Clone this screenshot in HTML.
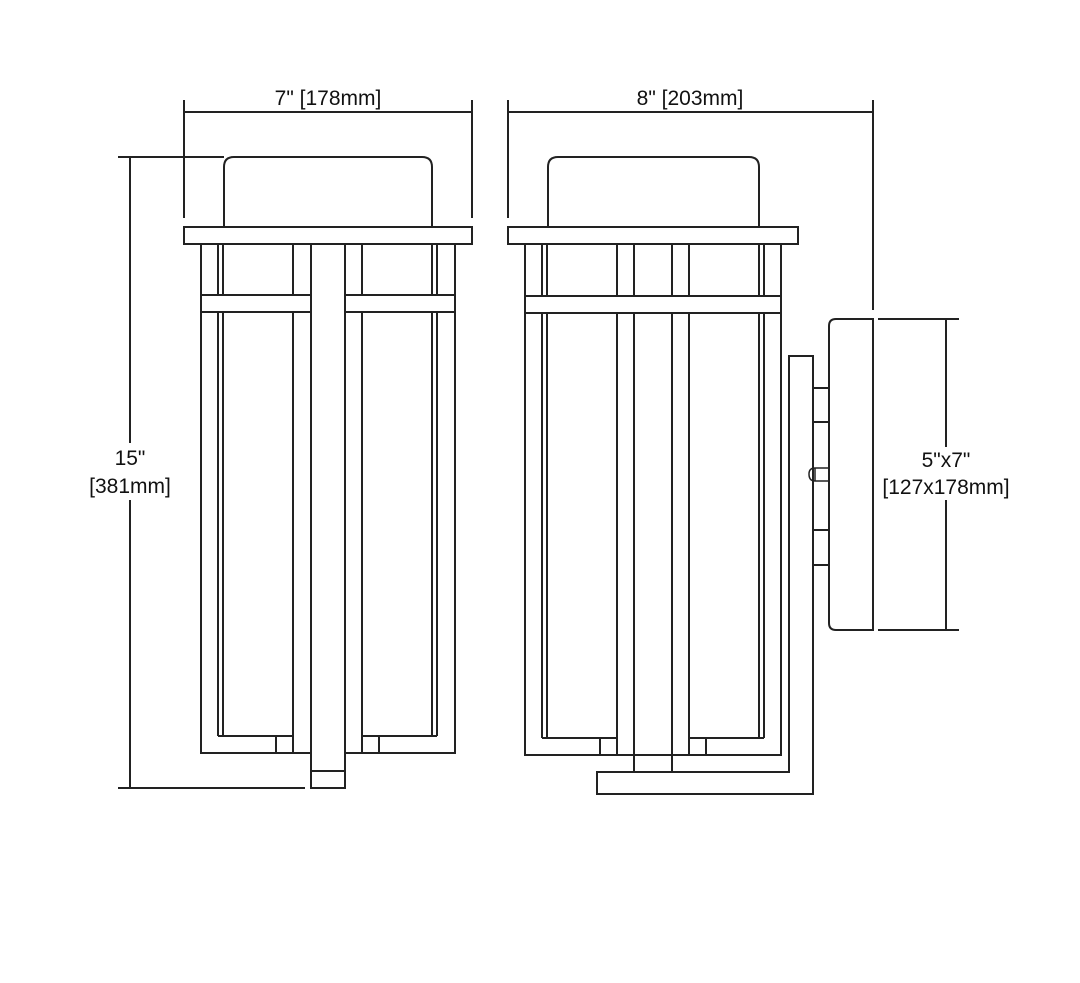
<!DOCTYPE html>
<html><head><meta charset="utf-8"><style>
html,body{margin:0;padding:0;background:#fff;}
svg{display:block;}
text{font-family:"Liberation Sans",sans-serif;font-size:21px;fill:#111;}
</style></head><body>
<svg width="1080" height="983" viewBox="0 0 1080 983" xmlns="http://www.w3.org/2000/svg">
<g fill="none" stroke="#222" stroke-width="2">
<line x1="184" y1="100" x2="184" y2="218"/>
<line x1="472" y1="100" x2="472" y2="218"/>
<line x1="184" y1="112" x2="472" y2="112"/>
<line x1="508" y1="100" x2="508" y2="218"/>
<line x1="873" y1="100" x2="873" y2="310"/>
<line x1="508" y1="112" x2="873" y2="112"/>
<line x1="118" y1="157" x2="224" y2="157"/>
<line x1="118" y1="788" x2="305" y2="788"/>
<line x1="130" y1="157" x2="130" y2="443"/>
<line x1="130" y1="500" x2="130" y2="788"/>
<line x1="878" y1="319" x2="959" y2="319"/>
<line x1="878" y1="630" x2="959" y2="630"/>
<line x1="946" y1="319" x2="946" y2="447"/>
<line x1="946" y1="500" x2="946" y2="630"/>

<path d="M224 227 V167 Q224 157 234 157 H422 Q432 157 432 167 V227"/>
<rect x="184" y="227" width="288" height="17"/>
<rect x="201" y="244" width="254" height="509"/>
<line x1="218" y1="244" x2="218" y2="736"/>
<line x1="223" y1="244" x2="223" y2="736"/>
<line x1="218" y1="736" x2="293" y2="736"/>
<line x1="276" y1="736" x2="276" y2="753"/>
<line x1="293" y1="244" x2="293" y2="753"/>
<line x1="432" y1="244" x2="432" y2="736"/>
<line x1="437" y1="244" x2="437" y2="736"/>
<line x1="362" y1="736" x2="437" y2="736"/>
<line x1="379" y1="736" x2="379" y2="753"/>
<line x1="362" y1="244" x2="362" y2="753"/>
<rect x="311" y="244" width="34" height="544" fill="#fff"/>
<line x1="311" y1="771" x2="345" y2="771"/>
<rect x="201" y="295" width="110" height="17" fill="#fff"/>
<rect x="345" y="295" width="110" height="17" fill="#fff"/>

<path d="M548 227 V167 Q548 157 558 157 H749 Q759 157 759 167 V227"/>
<rect x="508" y="227" width="290" height="17"/>
<rect x="525" y="244" width="256" height="511"/>
<line x1="542" y1="244" x2="542" y2="738"/>
<line x1="547" y1="244" x2="547" y2="738"/>
<line x1="542" y1="738" x2="617" y2="738"/>
<line x1="600" y1="738" x2="600" y2="755"/>
<line x1="617" y1="244" x2="617" y2="755"/>
<line x1="759" y1="244" x2="759" y2="738"/>
<line x1="764" y1="244" x2="764" y2="738"/>
<line x1="689" y1="738" x2="764" y2="738"/>
<line x1="706" y1="738" x2="706" y2="755"/>
<line x1="689" y1="244" x2="689" y2="755"/>
<line x1="634" y1="244" x2="634" y2="772"/>
<line x1="672" y1="244" x2="672" y2="772"/>
<rect x="525" y="296" width="256" height="17" fill="#fff"/>
<path d="M789 356 H813 V794 H597 V772 H789 Z"/>
<path d="M873 319 H836 Q829 319 829 326 V623 Q829 630 836 630 H873 Z"/>
<line x1="813" y1="388" x2="829" y2="388"/>
<line x1="813" y1="422" x2="829" y2="422"/>
<line x1="813" y1="530" x2="829" y2="530"/>
<line x1="813" y1="565" x2="829" y2="565"/>
<path d="M829 468 H815 Q809 468 809 474 Q809 481 815 481 H829" stroke-width="1.5"/>
<line x1="815" y1="468" x2="815" y2="481" stroke-width="1.5"/>
</g>
<text x="328" y="105" text-anchor="middle">7" [178mm]</text>
<text x="690" y="105" text-anchor="middle">8" [203mm]</text>
<text x="130" y="465" text-anchor="middle">15"</text>
<text x="130" y="493" text-anchor="middle">[381mm]</text>
<text x="946" y="467" text-anchor="middle">5"x7"</text>
<text x="946" y="494" text-anchor="middle">[127x178mm]</text>
</svg>
</body></html>
